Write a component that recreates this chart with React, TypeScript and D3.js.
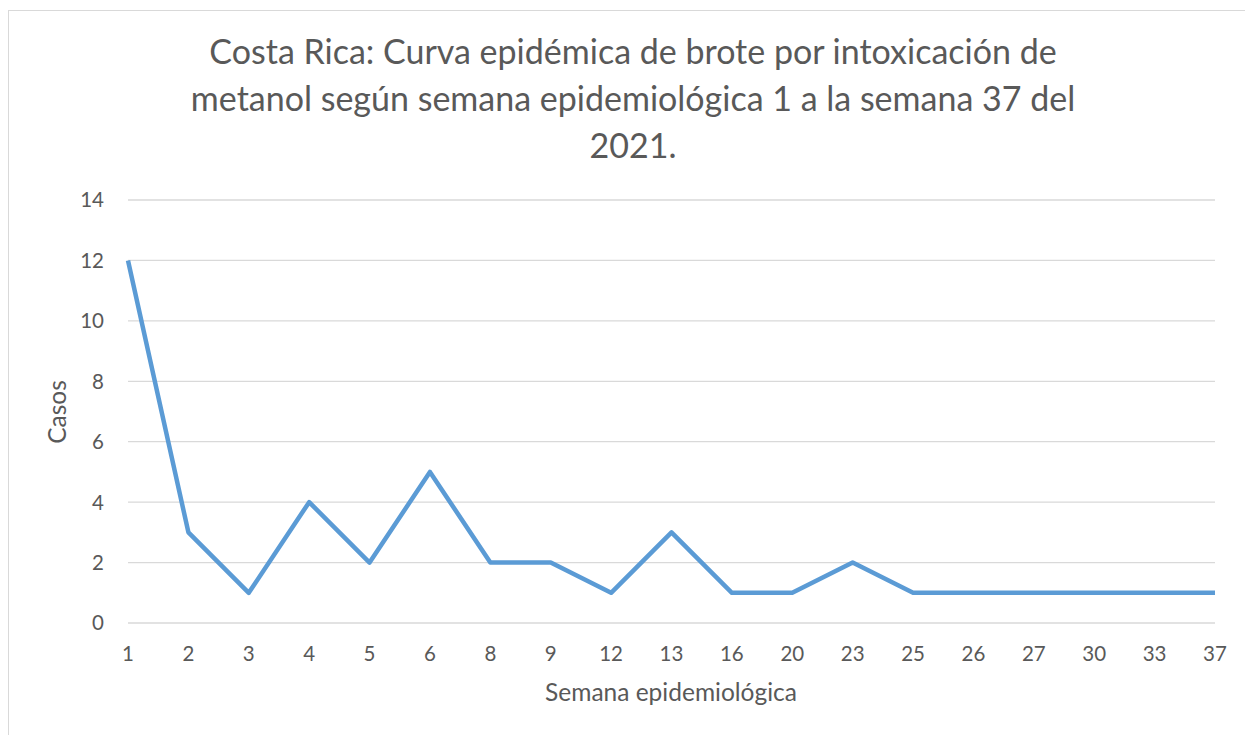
import * as d3 from 'd3';

const semanas = ['1', '2', '3', '4', '5', '6', '8', '9', '12', '13', '16', '20', '23', '25', '26', '27', '30', '33', '37'];
const casos = [12, 3, 1, 4, 2, 5, 2, 2, 1, 3, 1, 1, 2, 1, 1, 1, 1, 1, 1];
const yTicks = [0, 2, 4, 6, 8, 10, 12, 14];
const titleLines = [
  'Costa Rica: Curva epidémica de brote por intoxicación de',
  'metanol según semana epidemiológica 1 a la semana 37 del',
  '2021.',
];

const W = 1245;
const H = 735;
const FONT = 'Lato, "Open Sans", sans-serif';

export default function App() {
  const x = d3.scalePoint<string>().domain(semanas).range([128, 1215]);
  const y = d3.scaleLinear().domain([0, 14]).range([623, 200]);

  const line = d3.line<number>()
    .x((_, i) => x(semanas[i]) as number)
    .y(d => y(d));

  return (
    <svg width={W} height={H} style={{ position: 'absolute', left: 0, top: 0, fontFamily: FONT }}>
      <rect x={0} y={0} width={W} height={H} fill="white" />
      <rect x={8.5} y={10.5} width={W + 10} height={H + 10} fill="white" stroke="#d9d9d9" strokeWidth={1} />

      {titleLines.map((t, i) => (
        <text key={i} x={633} y={64 + i * 47} textAnchor="middle" fontSize={34} fill="#595959">{t}</text>
      ))}

      {yTicks.map(t => (
        <g key={t}>
          <line x1={128} x2={1215} y1={y(t)} y2={y(t)} stroke="#d9d9d9" strokeWidth={1.3} />
          <text x={104} y={y(t)} dy="0.36em" textAnchor="end" fontSize={20.5} fill="#595959">{t}</text>
        </g>
      ))}

      {semanas.map(s => (
        <text key={s} x={x(s)} y={661} textAnchor="middle" fontSize={20.5} fill="#595959">{s}</text>
      ))}

      <path d={line(casos) || ''} fill="none" stroke="#5b9bd5" strokeWidth={4.5} strokeLinejoin="round" />

      <text transform={`translate(66,412) rotate(-90)`} textAnchor="middle" fontSize={24.5} fill="#595959">Casos</text>
      <text x={671} y={701} textAnchor="middle" fontSize={24.5} fill="#595959">Semana epidemiológica</text>
    </svg>
  );
}
